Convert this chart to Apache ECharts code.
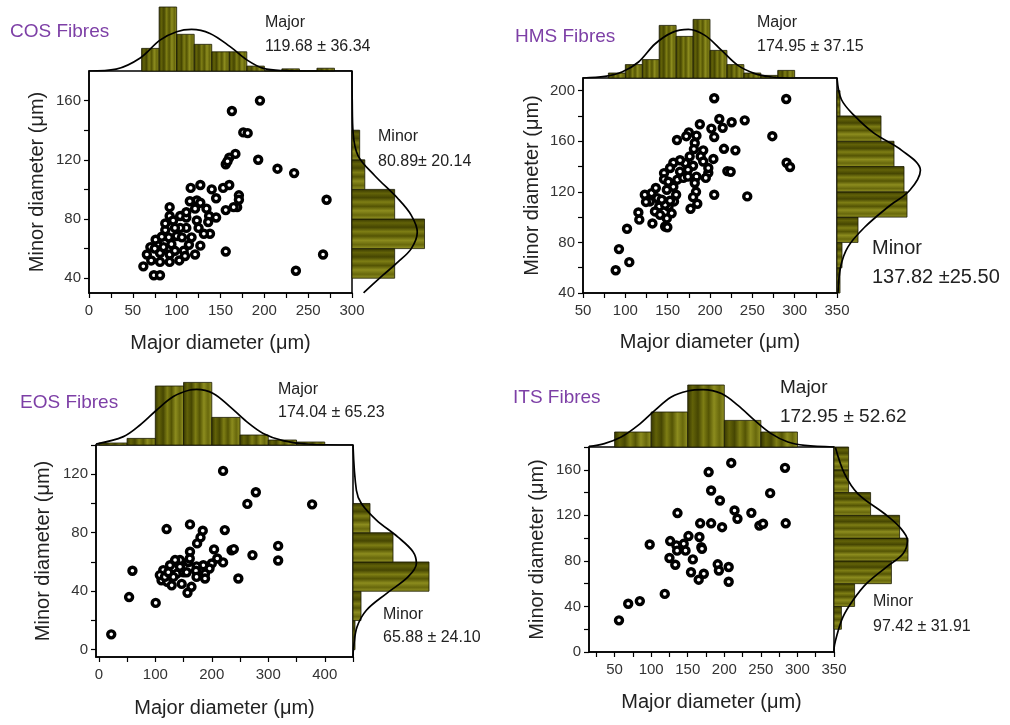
<!DOCTYPE html>
<html>
<head>
<meta charset="utf-8">
<script src="https://cdn.jsdelivr.net/npm/echarts@6/dist/echarts.min.js"></script>
<style>
  html, body { margin: 0; background: #fff; }
  #main { width: 1010px; height: 725px; }
</style>
</head>
<body>
<div id="main"></div>
<script>
// ---- COS fibres ----
var cosPoints = [
  [195,160],[163,153],[176,138.5],[181,138],[193,120],[215,114],[234,111],[271,93],[267,56],[236,45],
  [156,58],[156,117],[160,121.5],[167,124],[158,119],[116,101],[127,103],[140,100],[145,94],[153,101],
  [160,103],[171,96],[171,93],[169,88],[156,86],[165,88],[92,88],[92,82],[96,79],[115,92],
  [123,92.5],[134,87],[137,82],[145,81],[104,82],[111,81],[111,74],[125,74],[123,79],[136,78],
  [138,70],[87,72.5],[91,67.6],[100,68.5],[104,74],[117,67.6],[114,62.6],[127,62],[76,66],[79,62],
  [66,56],[70,61],[81,57],[92,56],[98,58.5],[108,58.5],[62,48],[74,42],[81,42],[81,51],
  [92,51],[103,52],[71,52],[87,77],[98,74],[111,84.6],[121,87],[127,91],[106,67.6],[83,68],
  [94,63],[85,61],[75,60],[121,56],[109.5,55],[131,70]
];
var cosMajorEdges = [60, 80, 100, 120, 140, 160, 180, 200, 220, 240, 260, 280];
var cosMajorCounts = [10.6, 30, 17.2, 12.5, 9, 9, 2.3, 0, 1, 0, 1.3];
var cosMajorFitX = [0, 31, 58, 81, 100, 117, 138, 161, 180, 199, 222, 260, 300];
var cosMajorFitY = [0, 0.9, 6, 14.5, 18.4, 19.5, 17.6, 11.4, 5.2, 1.2, 0.2, 0, 0];
var cosMinorEdges = [40, 60, 80, 100, 120, 140];
var cosMinorCounts = [20, 34, 20, 6, 3.6];
var cosMinorFitY = [180, 160, 138.6, 122.9, 109.4, 93.7, 82.5, 71.2, 60, 51, 42, 30.7, 30];
var cosMinorFitN = [0, 0.1, 0.5, 2.8, 10.6, 21.6, 27.8, 30.6, 27.8, 21.6, 14.5, 5.9, 5.5];
var cosXLabels = [0, 50, 100, 150, 200, 250, 300];
var cosXTicks = [0, 25, 50, 75, 100, 125, 150, 175, 200, 225, 250, 275, 300];
var cosYLabels = [40, 80, 120, 160];
var cosYTicks = [40, 60, 80, 100, 120, 140, 160];

// ---- HMS fibres ----
var hmsPoints = [
  [205,194],[290,193.4],[273.6,164],[290.5,143],[294.5,139.6],[241,176.5],[225.6,175],[215,170.7],[211,177.6],[201.6,170],
  [205,163.3],[188,173.4],[161,161],[175,167],[172,164],[184,164.4],[182,158.6],[181,153.8],[192,152.8],[189,148],
  [204,146],[216.5,154],[230,152.8],[220.5,136.4],[224.4,135.9],[205,117.7],[244,116.4],[198,135],[195,131],[184,132],
  [180,140.6],[174,137.5],[171,142.7],[164.6,145],[156.7,143],[152.8,138.8],[145.7,134.8],[145.7,130],[164.6,136],[161.4,129.6],
  [168.5,131],[156.7,124],[150.8,128],[182,127],[183.5,120],[180,115.8],[177,106.6],[185,110.6],[149,121.6],[160,117.7],
  [157.5,112.4],[151,108.4],[154.7,103],[149,99],[147,92.6],[149.6,92],[132,95],[123,117.7],[131,119],[129,112.4],
  [137.8,115],[140,108.4],[135,104.5],[141,101.8],[147,109.8],[143,113.7],[115.4,103.7],[116.5,98],[102,90.8],[92.5,74.7],
  [104.7,64.4],[88.6,58],[124.4,112],[152.8,113],[136,123],[176,148],[192,144],[198,138.8],[174,132]
];
var hmsMajorEdges = [80, 100, 120, 140, 160, 180, 200, 220, 240, 260, 280, 300];
var hmsMajorCounts = [2.5, 6.7, 9.2, 26.3, 20.8, 29.3, 13.8, 6.7, 2.5, 1.3, 3.8];
var hmsMajorFitX = [50, 76, 96, 115.6, 135, 155, 174.5, 194, 213.7, 233, 253, 272.6, 292, 350];
var hmsMajorFitY = [0, 0.8, 3, 8, 17, 22.7, 24.3, 21.3, 13.8, 6.3, 2.2, 0.5, 0, 0];
var hmsMinorEdges = [40, 60, 80, 100, 120, 140, 160, 180, 200];
var hmsMinorCounts = [1.5, 2.5, 10.5, 35, 33.5, 28.5, 22, 1.5];
var hmsMinorFitY = [210, 193, 180, 166, 153, 137, 121, 108, 92, 76.5, 60.6, 40];
var hmsMinorFitN = [0, 2.2, 8.8, 18.8, 32.2, 41.7, 36.3, 25.5, 13.8, 5.5, 1.8, 0.5];
var hmsXLabels = [50, 100, 150, 200, 250, 300, 350];
var hmsXTicks = [50, 75, 100, 125, 150, 175, 200, 225, 250, 275, 300, 325, 350];
var hmsYLabels = [40, 80, 120, 160, 200];
var hmsYTicks = [40, 60, 80, 100, 120, 140, 160, 180, 200];

// ---- EOS fibres ----
var eosPoints = [
  [22,10.5],[53.6,36],[59.5,54],[100.7,32],[120,82.5],[161.4,85.7],[184,81.4],[180,76.8],[174,72.7],[161.4,67],
  [220,122.3],[263,99.7],[278,107.7],[377.6,99.4],[223,81.8],[204,68.6],[235,68],[239,68.8],[272,64.7],[317.5,71],
  [317.5,61],[247,48.7],[220,59.7],[209.7,62.4],[200,59],[196,55.5],[188,52],[185,57.8],[173,57],[172,54],
  [188,48.7],[164,43],[157,38.9],[158.5,60],[161,62.4],[143.7,61.3],[135,61.3],[126,57.8],[114,54.4],[111,47.5],
  [121,46.4],[129,44],[146.7,45],[138,52],[150,53],[132,49.8],[108,51],[155.5,53],[143.7,56.7],[117,49.8],
  [173,49.8],[123,53]
];
var eosMajorEdges = [0, 50, 100, 150, 200, 250, 300, 350, 400];
var eosMajorCounts = [1, 3.3, 29.5, 31.3, 13.8, 5, 2.5, 1.5];
var eosMajorFitX = [-5, 43.5, 73, 102.5, 132, 161, 173, 202.5, 232, 261.6, 291, 326, 367.6, 450];
var eosMajorFitY = [0.5, 4.2, 10, 17.5, 24.2, 27.5, 27.8, 25.8, 19.2, 11.7, 5.8, 2.2, 0.5, 0];
var eosMinorEdges = [0, 20, 40, 60, 80, 100];
var eosMinorCounts = [1, 4, 38, 20, 8.5];
var eosMinorFitY = [140, 109, 100, 88.7, 77, 67, 59, 49.8, 38.4, 27, 15.5, 1.8, -5];
var eosMinorFitN = [0, 1.7, 4.2, 11.7, 22.5, 30, 31.7, 27.5, 16.7, 6.7, 2, 0.3, 0];
var eosXLabels = [0, 100, 200, 300, 400];
var eosXTicks = [0, 50, 100, 150, 200, 250, 300, 350, 400, 450];
var eosYLabels = [0, 40, 80, 120];
var eosYTicks = [0, 20, 40, 60, 80, 100, 120, 140];

// ---- ITS fibres ----
var itsPoints = [
  [56,27.8],[68.6,42.4],[84.5,44.7],[118.6,51],[98,94.4],[136,122],[126,97.4],[134.5,93.6],[144.5,95],[135.5,89],
  [147,89],[151,101.8],[166,101],[168.6,92],[169.5,90.6],[125,82.5],[133,76.6],[157,81.3],[154.5,70],[165,63.5],
  [172,68.7],[191,77],[192.6,71.6],[206,74.6],[206,61.7],[167,113],[182,113],[197,109.6],[178.6,158],[182,141.8],
  [194,133],[209.5,166],[214,124.3],[218,117],[237,122.2],[248,111],[253,112.6],[262.7,139.5],[283,161.7],[284,113]
];
var itsMajorEdges = [50, 100, 150, 200, 250, 300];
var itsMajorCounts = [7.5, 17.5, 31, 13.3, 7.5];
var itsMajorFitX = [15, 36, 59, 82, 105, 127.5, 150, 171, 196, 218.7, 241.5, 264, 287, 310, 350];
var itsMajorFitY = [0.3, 1.7, 5, 10.8, 18.3, 25, 28, 28.7, 26.7, 20.8, 13.3, 6.7, 2.5, 0.8, 0];
var itsMinorEdges = [20, 40, 60, 80, 100, 120, 140, 160, 180];
var itsMinorCounts = [3.7, 10.3, 28.7, 37, 32.8, 18.3, 7.3, 7.3];
var itsMinorFitY = [179.6, 156.4, 138.9, 121.4, 109.7, 98, 86.3, 74.6, 60, 45.4, 30.8, 16.2, 1.6, 0];
var itsMinorFitN = [0.7, 5.3, 12, 25.3, 32.8, 36.7, 34.5, 26.2, 16.2, 9.5, 4.5, 1.7, 0, 0];
var itsXLabels = [50, 100, 150, 200, 250, 300, 350];
var itsXTicks = [25, 50, 75, 100, 125, 150, 175, 200, 225, 250, 275, 300, 325, 350];
var itsYLabels = [0, 40, 80, 120, 160];
var itsYTicks = [0, 20, 40, 60, 80, 100, 120, 140, 160, 180];

var FONT = 'Liberation Sans, Arial, sans-serif';

var panels = [
  { name: 'COS Fibres', title: [10, 32], points: cosPoints,
    xMin: 0, xMax: 300, yMin: 30, yMax: 180, box: [89, 71, 263, 222], topH: 71, rightW: 95, pxPer: 2.133,
    xLabels: cosXLabels, xTicks: cosXTicks, yLabels: cosYLabels, yTicks: cosYTicks, xGap: 40, yGap: 42,
    majEdges: cosMajorEdges, majCounts: cosMajorCounts, majFitX: cosMajorFitX, majFitY: cosMajorFitY,
    minEdges: cosMinorEdges, minCounts: cosMinorCounts, minFitY: cosMinorFitY, minFitN: cosMinorFitN,
    majText: ['Major', '119.68 \u00b1 36.34', 265, 23, 47, 16],
    minText: ['Minor', '80.89\u00b1 20.14', 378, 137, 162, 16] },
  { name: 'HMS Fibres', title: [515, 37], points: hmsPoints,
    xMin: 50, xMax: 350, yMin: 40, yMax: 210, box: [583, 78, 254, 215], topH: 70, rightW: 100, pxPer: 2,
    xLabels: hmsXLabels, xTicks: hmsXTicks, yLabels: hmsYLabels, yTicks: hmsYTicks, xGap: 39, yGap: 41,
    majEdges: hmsMajorEdges, majCounts: hmsMajorCounts, majFitX: hmsMajorFitX, majFitY: hmsMajorFitY,
    minEdges: hmsMinorEdges, minCounts: hmsMinorCounts, minFitY: hmsMinorFitY, minFitN: hmsMinorFitN,
    majText: ['Major', '174.95 \u00b1 37.15', 757, 23, 47, 16],
    minText: ['Minor', '137.82 \u00b125.50', 872, 248, 277, 20] },
  { name: 'EOS Fibres', title: [20, 403], points: eosPoints,
    xMin: -5, xMax: 450, yMin: -5, yMax: 140, box: [96, 445, 257, 212], topH: 70, rightW: 90, pxPer: 2,
    xLabels: eosXLabels, xTicks: eosXTicks, yLabels: eosYLabels, yTicks: eosYTicks, xGap: 41, yGap: 43,
    majEdges: eosMajorEdges, majCounts: eosMajorCounts, majFitX: eosMajorFitX, majFitY: eosMajorFitY,
    minEdges: eosMinorEdges, minCounts: eosMinorCounts, minFitY: eosMinorFitY, minFitN: eosMinorFitN,
    majText: ['Major', '174.04 \u00b1 65.23', 278, 390, 413, 16],
    minText: ['Minor', '65.88 \u00b1 24.10', 383, 615, 638, 16] },
  { name: 'ITS Fibres', title: [513, 398], points: itsPoints,
    xMin: 15, xMax: 350, yMin: 0, yMax: 180, box: [589, 447, 245, 205], topH: 70, rightW: 90, pxPer: 2,
    xLabels: itsXLabels, xTicks: itsXTicks, yLabels: itsYLabels, yTicks: itsYTicks, xGap: 40, yGap: 42,
    majEdges: itsMajorEdges, majCounts: itsMajorCounts, majFitX: itsMajorFitX, majFitY: itsMajorFitY,
    minEdges: itsMinorEdges, minCounts: itsMinorCounts, minFitY: itsMinorFitY, minFitN: itsMinorFitN,
    majText: ['Major', '172.95 \u00b1 52.62', 780, 388, 417, 19],
    minText: ['Minor', '97.42 \u00b1 31.91', 873, 602, 627, 16] }
];

// striped olive fills
var stripeTones = ['#343400', '#626208', '#464602', '#7e7e14', '#545404', '#8c8c1e', '#68680c', '#969626'];
function stripes(horizontal) {
  var stops = [];
  for (var i = 0; i < stripeTones.length; i++) {
    stops.push({ offset: i / (stripeTones.length - 1), color: stripeTones[i] });
  }
  return horizontal ? new echarts.graphic.LinearGradient(0, 0, 1, 0, stops)
                    : new echarts.graphic.LinearGradient(0, 0, 0, 1, stops);
}
var vFill = stripes(true);
var hFill = stripes(false);

function topBar(params, api) {
  var a = api.coord([api.value(0), 0]);
  var b = api.coord([api.value(1), api.value(2)]);
  return { type: 'rect', shape: { x: a[0], y: b[1], width: b[0] - a[0], height: a[1] - b[1] },
           style: { fill: vFill, stroke: '#1a1a00', lineWidth: 0.8 } };
}
function rightBar(params, api) {
  var a = api.coord([0, api.value(0)]);
  var b = api.coord([api.value(2), api.value(1)]);
  return { type: 'rect', shape: { x: a[0], y: b[1], width: b[0] - a[0], height: a[1] - b[1] },
           style: { fill: hFill, stroke: '#1a1a00', lineWidth: 0.8 } };
}

var grids = [], xAxes = [], yAxes = [], series = [], texts = [];
var nameStyle = { color: '#222', fontSize: 20, fontFamily: FONT };

panels.forEach(function (p) {
  var g = grids.length;
  var b = p.box;
  // main scatter
  grids.push({ left: b[0], top: b[1], width: b[2], height: b[3], show: true,
               borderColor: '#000', borderWidth: 1.5, backgroundColor: '#fff' });
  xAxes.push({ gridIndex: g, type: 'value', min: p.xMin, max: p.xMax,
    name: 'Major diameter (\u03bcm)', nameLocation: 'middle', nameGap: p.xGap, nameTextStyle: nameStyle,
    axisLine: { onZero: false, lineStyle: { color: '#000', width: 1.5 } },
    axisTick: { customValues: p.xTicks, length: 5, lineStyle: { color: '#000', width: 1.2 } },
    axisLabel: { customValues: p.xLabels, margin: 10, color: '#333', fontSize: 15, fontFamily: FONT },
    splitLine: { show: false } });
  yAxes.push({ gridIndex: g, type: 'value', min: p.yMin, max: p.yMax,
    name: 'Minor diameter (\u03bcm)', nameLocation: 'middle', nameGap: p.yGap, nameRotate: 90, nameTextStyle: nameStyle,
    axisLine: { onZero: false, lineStyle: { color: '#000', width: 1.5 } },
    axisTick: { customValues: p.yTicks, length: 5, lineStyle: { color: '#000', width: 1.2 } },
    axisLabel: { customValues: p.yLabels, margin: 8, color: '#333', fontSize: 15, fontFamily: FONT },
    splitLine: { show: false } });
  series.push({ type: 'scatter', xAxisIndex: g, yAxisIndex: g, data: p.points,
    symbol: 'circle', symbolSize: 7, z: 5,
    itemStyle: { color: '#fff', borderColor: '#000', borderWidth: 3.4, opacity: 1 } });

  // top histogram (major)
  grids.push({ left: b[0], top: b[1] - p.topH, width: b[2], height: p.topH });
  xAxes.push({ gridIndex: g + 1, type: 'value', min: p.xMin, max: p.xMax, show: false });
  yAxes.push({ gridIndex: g + 1, type: 'value', min: 0, max: p.topH / p.pxPer, show: false });
  series.push({ type: 'custom', xAxisIndex: g + 1, yAxisIndex: g + 1, renderItem: topBar,
    encode: { x: [0, 1], y: 2 },
    data: p.majCounts.map(function (c, i) { return [p.majEdges[i], p.majEdges[i + 1], c]; }) });
  series.push({ type: 'line', xAxisIndex: g + 1, yAxisIndex: g + 1, smooth: 0.35, symbol: 'none', z: 4,
    lineStyle: { color: '#000', width: 1.7 },
    data: p.majFitX.map(function (x, i) { return [x, p.majFitY[i]]; }) });

  // right histogram (minor)
  grids.push({ left: b[0] + b[2], top: b[1], width: p.rightW, height: b[3] });
  xAxes.push({ gridIndex: g + 2, type: 'value', min: 0, max: p.rightW / p.pxPer, show: false });
  yAxes.push({ gridIndex: g + 2, type: 'value', min: p.yMin, max: p.yMax, show: false });
  series.push({ type: 'custom', xAxisIndex: g + 2, yAxisIndex: g + 2, renderItem: rightBar,
    encode: { x: 2, y: [0, 1] },
    data: p.minCounts.map(function (c, i) { return [p.minEdges[i], p.minEdges[i + 1], c]; }) });
  series.push({ type: 'line', xAxisIndex: g + 2, yAxisIndex: g + 2, smooth: 0.35, symbol: 'none', z: 4,
    lineStyle: { color: '#000', width: 1.7 },
    data: p.minFitY.map(function (y, i) { return [p.minFitN[i], y]; }) });

  // texts
  texts.push({ type: 'text', x: p.title[0], y: p.title[1],
    style: { text: p.name, fill: '#7d3fa6', fontSize: 19, fontFamily: FONT, verticalAlign: 'middle' } });
  [p.majText, p.minText].forEach(function (t) {
    texts.push({ type: 'text', x: t[2], y: t[3],
      style: { text: t[0], fill: '#222', fontSize: t[5], fontFamily: FONT, verticalAlign: 'middle' } });
    texts.push({ type: 'text', x: t[2], y: t[4],
      style: { text: t[1], fill: '#222', fontSize: t[5], fontFamily: FONT, verticalAlign: 'middle' } });
  });
});

var myChart = echarts.init(document.getElementById('main'));
myChart.setOption({
  backgroundColor: '#fff',
  animation: false,
  grid: grids,
  xAxis: xAxes,
  yAxis: yAxes,
  series: series,
  graphic: texts
});
</script>
</body>
</html>
